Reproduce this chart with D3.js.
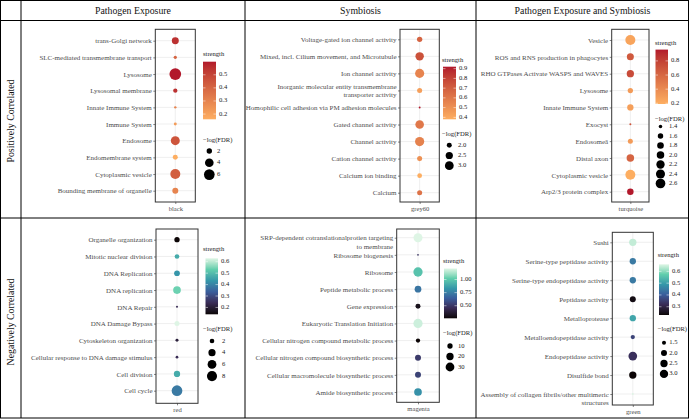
<!DOCTYPE html>
<html><head><meta charset="utf-8">
<script src="https://cdnjs.cloudflare.com/ajax/libs/d3/7.8.5/d3.min.js"></script>
<style>
body{margin:0;background:#fff}
svg{display:block}
text{font-family:"Liberation Serif","Times New Roman",serif}
</style>
</head><body>
<svg id="c" width="689" height="420"></svg>
<script>
// ---------------- DATA ----------------
const colTitles = ["Pathogen Exposure", "Symbiosis", "Pathogen Exposure and Symbiosis"];
const rowTitles = ["Positively Correlated", "Negatively Correlated"];

// black module (Pathogen Exposure, positive)
const blackTerms = ["trans-Golgi network", "SLC-mediated transmembrane transport", "Lysosome", "Lysosomal membrane", "Innate Immune System", "Immune System", "Endosome", "Endomembrane system", "Cytoplasmic vesicle", "Bounding membrane of organelle"];
const blackStrength = [0.55, 0.40, 0.60, 0.55, 0.30, 0.22, 0.45, 0.16, 0.42, 0.30];
const blackLogFDR = [2.8, 1.45, 7.2, 1.64, 1.4, 1.42, 4.3, 1.85, 5.27, 2.27];
const blackStrengthBreaks = [0.2, 0.3, 0.4, 0.5];
const blackSizeBreaks = [2, 4, 6];

// grey60 module (Symbiosis, positive)
const grey60Terms = ["Voltage-gated ion channel activity", "Mixed, incl. Cilium movement, and Microtubule", "Ion channel activity", "Inorganic molecular entity transmembrane\ntransporter activity", "Homophilic cell adhesion via PM adhesion molecules", "Gated channel activity", "Channel activity", "Cation channel activity", "Calcium ion binding", "Calcium"];
const grey60Strength = [0.68, 0.75, 0.55, 0.44, 0.92, 0.60, 0.56, 0.50, 0.38, 0.62];
const grey60LogFDR = [2.06, 2.87, 3.12, 2.01, 1.75, 2.93, 3.15, 2.01, 1.96, 2.01];
const grey60StrengthBreaks = [0.4, 0.5, 0.6, 0.7, 0.8, 0.9];
const grey60SizeBreaks = [2.0, 2.5, 3.0];

// turquoise module (Pathogen Exposure and Symbiosis, positive)
const turquoiseTerms = ["Vesicle", "ROS and RNS production in phagocytes", "RHO GTPases Activate WASPS and WAVES", "Lysosome", "Innate Immune System", "Exocyst", "Endosomeâ", "Distal axon", "Cytoplasmic vesicle", "Arp2/3 protein complex"];
const turquoiseStrength = [0.25, 0.68, 0.75, 0.30, 0.28, 0.70, 0.30, 0.62, 0.19, 0.96];
const turquoiseLogFDR = [2.7, 1.88, 1.94, 1.58, 1.74, 1.35, 1.54, 1.99, 2.68, 1.78];
const turquoiseStrengthBreaks = [0.2, 0.4, 0.6, 0.8];
const turquoiseSizeBreaks = [1.4, 1.6, 1.8, 2.0, 2.2, 2.4, 2.6];

// red module (Pathogen Exposure, negative)
const redTerms = ["Organelle organization", "Mitotic nuclear division", "DNA Replication", "DNA replication", "DNA Repair", "DNA Damage Bypass", "Cytoskeleton organization", "Cellular response to DNA damage stimulus", "Cell division", "Cell cycle"];
const redStrength = [0.14, 0.47, 0.43, 0.54, 0.24, 0.63, 0.21, 0.24, 0.47, 0.385];
const redLogFDR = [2.41, 2.04, 2.69, 4.6, 1.3, 2.22, 1.4, 1.35, 3.18, 9.0];
const redStrengthBreaks = [0.2, 0.3, 0.4, 0.5, 0.6];
const redSizeBreaks = [2, 4, 6, 8];

// magenta module (Symbiosis, negative)
const magentaTerms = ["SRP-dependent cotranslationalprotien targeting\nto membrane", "Ribosome biogenesis", "Ribosome", "Peptide metabolic process", "Gene expression", "Eukaryotic Translation Initiation", "Cellular nitrogen compound metabolic process", "Cellular nitrogen compound biosynthetic process", "Cellular macromolecule biosynthetic process", "Amide biosynthetic process"];
const magentaStrength = [1.21, 0.49, 0.98, 0.72, 0.31, 1.18, 0.26, 0.51, 0.54, 0.81];
const magentaLogFDR = [31.6, 3, 34, 16.4, 8.8, 33, 6.6, 12.9, 12.9, 22.3];
const magentaStrengthBreaks = [0.5, 0.75, 1.0];
const magentaSizeBreaks = [10, 20, 30];

// green module (Pathogen Exposure and Symbiosis, negative)
const greenTerms = ["Sushi", "Serine-type peptidase activity", "Serine-type endopeptidase activity", "Peptidase activity", "Metalloprotease", "Metalloendopeptidase activity", "Endopeptidase activity", "Disulfide bond", "Assembly of collagen fibrils/other multimeric\nstructures"];
const greenStrength = [0.64, 0.445, 0.445, 0.24, 0.51, 0.36, 0.325, 0.23, 0.66];
const greenLogFDR = [2.51, 2.11, 2.11, 2.0, 2.11, 1.55, 3.2, 2.51, 1.3];
const greenStrengthBreaks = [0.3, 0.4, 0.5, 0.6];
const greenSizeBreaks = [1.5, 2.0, 2.5, 3.0];

// ---------------- STYLE / LAYOUT ----------------
const warmColors = ["#FDAE61", "#B2182B"];
const makoColors = ["#0B0405", "#382A54", "#395D9C", "#3497A9", "#60CEAC", "#DEF5E5"];
const axisTextColor = "#4D4D4D";

const panels = [
  {module: "black", terms: blackTerms, strength: blackStrength, logFDR: blackLogFDR,
   sBreaks: blackStrengthBreaks, zBreaks: blackSizeBreaks, pal: "warm", sFmt: ".1f", zFmt: "d",
   box: [155.3, 195.3, 29.3, 202], dots: [40.7, 190.7], dRange: [2.4, 11.7], multi: "center",
   leg: {tx: 203, ty: 54, bar: [203, 216, 61.7, 119.3], ztY: 140.7, kY: 151, kStep: 11.8, kX: 209.3, kLX: 217}},
  {module: "grey60", terms: grey60Terms, strength: grey60Strength, logFDR: grey60LogFDR,
   sBreaks: grey60StrengthBreaks, zBreaks: grey60SizeBreaks, pal: "warm", sFmt: ".1f", zFmt: ".1f",
   box: [400, 439.3, 29.3, 202], dots: [39.3, 192.7], dRange: [1.9, 9.2], multi: "center",
   leg: {tx: 442, ty: 60, bar: [443, 456, 66.7, 119.3], ztY: 134.3, kY: 145.3, kStep: 10.2, kX: 449.3, kLX: 458}},
  {module: "turquoise", terms: turquoiseTerms, strength: turquoiseStrength, logFDR: turquoiseLogFDR,
   sBreaks: turquoiseStrengthBreaks, zBreaks: turquoiseSizeBreaks, pal: "warm", sFmt: ".1f", zFmt: ".1f",
   box: [611.7, 649, 29.3, 202], dots: [40, 191.7], dRange: [2, 10], multi: "center",
   leg: {tx: 655, ty: 43.3, bar: [655.5, 668, 49.6, 104], ztY: 119, kY: 126.5, kStep: 9.5, kX: 660.5, kLX: 669}},
  {module: "red", terms: redTerms, strength: redStrength, logFDR: redLogFDR,
   sBreaks: redStrengthBreaks, zBreaks: redSizeBreaks, pal: "mako", sFmt: ".1f", zFmt: "d",
   box: [156, 198, 229, 403.3], dots: [239.7, 390.7], dRange: [2, 10.7], multi: "center",
   leg: {tx: 203, ty: 249.3, bar: [205.5, 218, 258.3, 314.3], ztY: 329, kY: 341, kStep: 11.7, kX: 212, kLX: 222}},
  {module: "magenta", terms: magentaTerms, strength: magentaStrength, logFDR: magentaLogFDR,
   sBreaks: magentaStrengthBreaks, zBreaks: magentaSizeBreaks, pal: "mako", sFmt: ".2f", zFmt: "d",
   box: [396.7, 439.3, 229, 402.3], dots: [237.7, 392], dRange: [1.7, 9.3], multi: "top",
   leg: {tx: 443, ty: 261, bar: [444, 457, 268.5, 318.3], ztY: 333, kY: 346, kStep: 10.5, kX: 450, kLX: 458}},
  {module: "green", terms: greenTerms, strength: greenStrength, logFDR: greenLogFDR,
   sBreaks: greenStrengthBreaks, zBreaks: greenSizeBreaks, pal: "mako", sFmt: ".1f", zFmt: ".1f",
   box: [612.3, 653.3, 232.3, 405], dots: [242.3, 394], dRange: [1.8, 8.7], multi: "top",
   leg: {tx: 657.7, ty: 255.7, bar: [659, 669, 264.3, 315], ztY: 329, kY: 342.7, kStep: 10.4, kX: 664, kLX: 669.3}}
];

// ---------------- DRAW ----------------
const svg = d3.select("#c");
const defs = svg.append("defs");
svg.append("rect").attr("width", 689).attr("height", 420).attr("fill", "#fff");

// table grid
const tbl = svg.append("g").attr("stroke", "#000").attr("stroke-width", 1).attr("fill", "none");
tbl.append("rect").attr("x", 0.5).attr("y", 0.5).attr("width", 688).attr("height", 417.5);
[21, 245, 476].forEach(x => tbl.append("line").attr("x1", x).attr("x2", x).attr("y1", 0.5).attr("y2", 418));
[20.5, 218].forEach(y => tbl.append("line").attr("x1", 0.5).attr("x2", 688.5).attr("y1", y).attr("y2", y));

const colCenters = [133, 360.5, 582.5];
colTitles.forEach((t, i) => svg.append("text").attr("x", colCenters[i]).attr("y", 14)
  .attr("text-anchor", "middle").attr("font-size", 9.8).attr("fill", "#111").text(t));
const rowCenters = [121, 322];
rowTitles.forEach((t, i) => svg.append("text")
  .attr("transform", `translate(14.2,${rowCenters[i]}) rotate(-90)`)
  .attr("text-anchor", "middle").attr("font-size", 9.8).attr("fill", "#111").text(t));

function colorScale(p) {
  const ext = d3.extent(p.strength);
  if (p.pal === "warm") {
    return d3.scaleLinear().domain(ext).range(warmColors).interpolate(d3.interpolateLab);
  }
  const n = makoColors.length;
  const dom = d3.range(n).map(i => ext[0] + (ext[1] - ext[0]) * i / (n - 1));
  return d3.scaleLinear().domain(dom).range(makoColors).interpolate(d3.interpolateLab);
}

function sizeScale(p) {
  const norm = d3.scaleLinear().domain(d3.extent(p.logFDR)).range([0, 1]).clamp(true);
  const s = d3.scaleSqrt().domain([0, 1]).range(p.dRange);
  return v => s(norm(v));
}

panels.forEach((p, pi) => {
  const g = svg.append("g");
  const [x0, x1, y0, y1] = p.box;
  const y = d3.scalePoint().domain(p.terms).range(p.dots).padding(0);
  const x = d3.scalePoint().domain([p.module]).range([x0, x1]).padding(0.5);
  const col = colorScale(p);
  const dia = sizeScale(p);

  // grid lines
  g.append("g").selectAll("line").data(p.terms).join("line")
    .attr("x1", x0).attr("x2", x1).attr("y1", d => y(d)).attr("y2", d => y(d))
    .attr("stroke", "#EBEBEB").attr("stroke-width", 0.8);
  g.append("line").attr("x1", x(p.module)).attr("x2", x(p.module)).attr("y1", y0).attr("y2", y1)
    .attr("stroke", "#EBEBEB").attr("stroke-width", 0.8);

  // y axis (left)
  const yAxis = d3.axisLeft(y).tickSize(2).tickPadding(1.5);
  const ya = g.append("g").attr("transform", `translate(${x0},0)`).call(yAxis);
  ya.select(".domain").remove();
  ya.selectAll(".tick line").attr("stroke", "#333").attr("stroke-width", 0.6);
  ya.selectAll(".tick text").attr("font-size", 7).attr("fill", axisTextColor)
    .attr("font-family", '"Liberation Serif","Times New Roman",serif')
    .each(function(d) {
      const lines = d.split("\n");
      const t = d3.select(this);
      if (lines.length > 1) {
        t.text(null);
        const lh = 8.5;
        const start = p.multi === "center" ? -(lines.length - 1) * lh / 2 : 0;
        lines.forEach((ln, k) => t.append("tspan").attr("x", t.attr("x")).attr("dy", k === 0 ? null : lh).text(ln));
        t.attr("dy", null).attr("y", start).attr("dominant-baseline", "middle");
        t.selectAll("tspan").attr("dominant-baseline", "middle");
      }
    });

  // x axis (bottom)
  const xAxis = d3.axisBottom(x).tickSize(2).tickPadding(2);
  const xa = g.append("g").attr("transform", `translate(0,${y1})`).call(xAxis);
  xa.select(".domain").remove();
  xa.selectAll(".tick line").attr("stroke", "#333").attr("stroke-width", 0.6);
  xa.selectAll(".tick text").attr("font-size", 6.6).attr("fill", axisTextColor)
    .attr("font-family", '"Liberation Serif","Times New Roman",serif');

  // points
  g.append("g").selectAll("circle").data(p.terms).join("circle")
    .attr("cx", x(p.module)).attr("cy", d => y(d))
    .attr("r", (d, i) => dia(p.logFDR[i]) / 2)
    .attr("fill", (d, i) => col(p.strength[i]));

  // panel border
  g.append("rect").attr("x", x0).attr("y", y0).attr("width", x1 - x0).attr("height", y1 - y0)
    .attr("fill", "none").attr("stroke", "#333").attr("stroke-width", 1);

  // ---- legends ----
  const L = p.leg;
  const lg = svg.append("g");
  lg.append("text").attr("x", L.tx).attr("y", L.ty).attr("dominant-baseline", "middle")
    .attr("font-size", 6.6).attr("fill", "#222").text("strength");
  const ext = d3.extent(p.strength);
  const gid = "grad" + pi;
  const grad = defs.append("linearGradient").attr("id", gid)
    .attr("x1", 0).attr("x2", 0).attr("y1", 1).attr("y2", 0);
  d3.range(21).forEach(k => {
    const v = ext[0] + (ext[1] - ext[0]) * k / 20;
    grad.append("stop").attr("offset", (k / 20)).attr("stop-color", col(v));
  });
  const [bx0, bx1, by0, by1] = L.bar;
  lg.append("rect").attr("x", bx0).attr("y", by0).attr("width", bx1 - bx0).attr("height", by1 - by0)
    .attr("fill", `url(#${gid})`);
  const sy = d3.scaleLinear().domain(ext).range([by1, by0]);
  const fmt = d3.format(p.sFmt);
  p.sBreaks.forEach(b => {
    const yy = sy(b);
    lg.append("line").attr("x1", bx0).attr("x2", bx0 + 2.5).attr("y1", yy).attr("y2", yy).attr("stroke", "#fff").attr("stroke-width", 0.5);
    lg.append("line").attr("x1", bx1 - 2.5).attr("x2", bx1).attr("y1", yy).attr("y2", yy).attr("stroke", "#fff").attr("stroke-width", 0.5);
    lg.append("text").attr("x", bx1 + 3).attr("y", yy).attr("dominant-baseline", "middle")
      .attr("font-size", 6.6).attr("fill", "#222").text(fmt(b));
  });

  lg.append("text").attr("x", L.tx).attr("y", L.ztY).attr("dominant-baseline", "middle")
    .attr("font-size", 6.6).attr("fill", "#222").text("\u2212log(FDR)");
  const zf = d3.format(p.zFmt);
  p.zBreaks.forEach((b, k) => {
    const yy = L.kY + k * L.kStep;
    lg.append("circle").attr("cx", L.kX).attr("cy", yy).attr("r", dia(b) / 2).attr("fill", "#000");
    lg.append("text").attr("x", L.kLX).attr("y", yy).attr("dominant-baseline", "middle")
      .attr("font-size", 6.6).attr("fill", "#222").text(zf(b));
  });
});
</script>
</body></html>
